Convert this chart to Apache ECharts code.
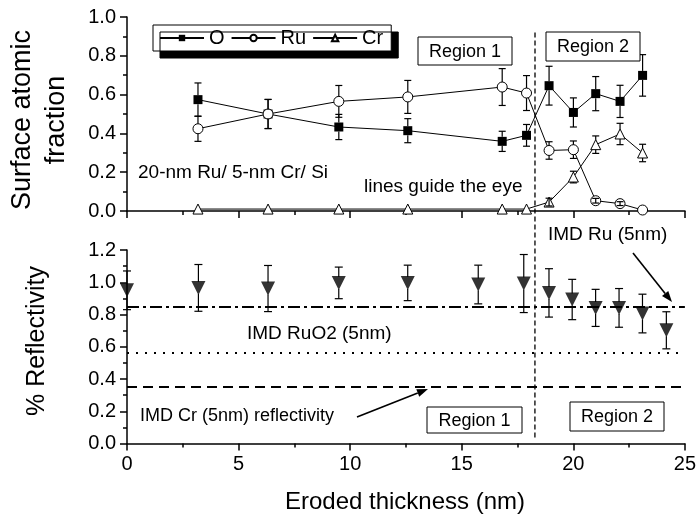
<!DOCTYPE html>
<html>
<head>
<meta charset="utf-8">
<script src="https://cdn.jsdelivr.net/npm/echarts@6/dist/echarts.min.js"></script>
<style>
html,body{margin:0;padding:0;background:#fff;}
#chart{width:699px;height:525px;}
</style>
</head>
<body>
<div id="chart"></div>
<script>
// ---------- DATA ----------
// Top panel: surface atomic fraction vs eroded thickness (nm)
const xTop   = [3.18, 6.32, 9.49, 12.58, 16.81, 17.90, 18.91, 20.00, 21.00, 22.09, 23.10];
const oFrac  = [0.574, 0.500, 0.433, 0.414, 0.359, 0.390, 0.646, 0.508, 0.605, 0.565, 0.699];
const oErr   = [0.086, 0.075, 0.065, 0.062, 0.052, 0.056, 0.100, 0.075, 0.088, 0.083, 0.107];
const ruFrac = [0.424, 0.500, 0.565, 0.588, 0.639, 0.608, 0.312, 0.316, 0.053, 0.038, 0.005];
const ruErr  = [0.065, 0.075, 0.082, 0.085, 0.095, 0.090, 0.045, 0.045, 0.012, 0.010, 0];
const crFrac = [0.010, 0.010, 0.010, 0.010, 0.010, 0.010, 0.046, 0.175, 0.342, 0.397, 0.299];
const crErr  = [0, 0, 0, 0, 0, 0, 0.020, 0.030, 0.045, 0.055, 0.045];

// Bottom panel: % reflectivity
const xBot   = [0.0, 3.20, 6.32, 9.49, 12.58, 15.74, 17.78, 18.91, 19.95, 21.00, 22.05, 23.10, 24.17];
const refl   = [0.950, 0.965, 0.961, 0.996, 0.996, 0.986, 0.992, 0.934, 0.893, 0.841, 0.841, 0.806, 0.702];
const reflErr= [0.120, 0.145, 0.143, 0.098, 0.110, 0.120, 0.180, 0.150, 0.125, 0.115, 0.120, 0.120, 0.115];

// Reference (IMD) reflectivity levels
const imdRu   = 0.847;
const imdRuO2 = 0.564;
const imdCr   = 0.355;

// Region boundary (nm)
const regionBoundary = 18.28;

// Axis ticks
const xTicks = {min: 0, max: 25, interval: 5};
const yTopTicks = {min: 0, max: 1.0, interval: 0.2};
const yBotTicks = {min: 0, max: 1.2, interval: 0.2};

// ---------- CHART ----------
const FONT = 'Liberation Sans, Arial, Helvetica, sans-serif';
const chart = echarts.init(document.getElementById('chart'), null, {renderer: 'canvas'});

function pairs(xs, ys, es) { return xs.map((x, i) => es ? [x, ys[i], es[i]] : [x, ys[i]]); }

function errRenderer(gap, capHalf) {
  return function (params, api) {
    const x = api.value(0), y = api.value(1), e = api.value(2);
    if (!e) return null;
    const c = api.coord([x, y]);
    const hi = api.coord([x, y + e]);
    const lo = api.coord([x, y - e]);
    const st = {stroke: '#000', lineWidth: 1.2};
    const ch = [];
    const dUp = c[1] - hi[1];
    if (dUp > gap) {
      ch.push({type: 'line', shape: {x1: c[0], y1: c[1] - gap, x2: hi[0], y2: hi[1]}, style: st});
      ch.push({type: 'line', shape: {x1: c[0], y1: lo[1], x2: c[0], y2: c[1] + gap}, style: st});
    } else {
      ch.push({type: 'line', shape: {x1: c[0], y1: hi[1], x2: c[0], y2: lo[1]}, style: st});
    }
    ch.push({type: 'line', shape: {x1: hi[0] - capHalf, y1: hi[1], x2: hi[0] + capHalf, y2: hi[1]}, style: st});
    ch.push({type: 'line', shape: {x1: lo[0] - capHalf, y1: lo[1], x2: lo[0] + capHalf, y2: lo[1]}, style: st});
    return {type: 'group', children: ch};
  };
}

const axisLineStyle = {color: '#000', width: 1.5};
function xAxisCfg(grid, showLabel) {
  return {
    gridIndex: grid, type: 'value', min: xTicks.min, max: xTicks.max, interval: xTicks.interval,
    axisLine: {show: true, onZero: false, lineStyle: axisLineStyle},
    axisTick: {show: true, inside: false, length: 7, lineStyle: axisLineStyle},
    minorTick: {show: true, splitNumber: 2, length: 4, lineStyle: axisLineStyle},
    splitLine: {show: false},
    axisLabel: {show: showLabel, color: '#000', fontSize: 20, fontFamily: FONT, margin: 11}
  };
}
function yAxisCfg(grid, t) {
  return {
    gridIndex: grid, type: 'value', min: t.min, max: t.max, interval: t.interval,
    axisLine: {show: true, onZero: false, lineStyle: axisLineStyle},
    axisTick: {show: true, inside: false, length: 7, lineStyle: axisLineStyle},
    minorTick: {show: true, splitNumber: 2, length: 4, lineStyle: axisLineStyle},
    splitLine: {show: false},
    axisLabel: {color: '#000', fontSize: 20, fontFamily: FONT, margin: 11,
      formatter: v => v.toFixed(1)}
  };
}

const option = {
  animation: false,
  backgroundColor: '#fff',
  textStyle: {fontFamily: FONT},
  grid: [
    {left: 127, right: 14, top: 17, height: 194},
    {left: 127, right: 14, top: 250, height: 193.5}
  ],
  xAxis: [xAxisCfg(0, false), xAxisCfg(1, true)],
  yAxis: [yAxisCfg(0, yTopTicks), yAxisCfg(1, yBotTicks)],
  legend: {
    left: 153, top: 25,
    data: ['O', 'Ru', 'Cr'],
    orient: 'horizontal',
    itemWidth: 44, itemHeight: 8, itemGap: 6,
    padding: [3, 8, 3, 6],
    backgroundColor: '#fff', borderColor: '#000', borderWidth: 1,
    shadowColor: '#000', shadowOffsetX: 7, shadowOffsetY: 7, shadowBlur: 0.01,
    textStyle: {color: '#000', fontSize: 20, fontFamily: FONT},
    selectedMode: false
  },
  series: [
    {name: 'O', type: 'line', xAxisIndex: 0, yAxisIndex: 0, data: pairs(xTop, oFrac),
      symbol: 'rect', symbolSize: 9, itemStyle: {color: '#000'}, lineStyle: {color: '#000', width: 1}, z: 3},
    {name: 'Ru', type: 'line', xAxisIndex: 0, yAxisIndex: 0, data: pairs(xTop, ruFrac),
      symbol: 'circle', symbolSize: 10, itemStyle: {color: '#fff', borderColor: '#000', borderWidth: 1},
      lineStyle: {color: '#000', width: 1}, z: 3},
    {name: 'Cr', type: 'line', xAxisIndex: 0, yAxisIndex: 0, data: pairs(xTop, crFrac),
      symbol: 'triangle', symbolSize: 10, itemStyle: {color: '#fff', borderColor: '#000', borderWidth: 1},
      lineStyle: {color: '#000', width: 1}, z: 3},
    {type: 'custom', xAxisIndex: 0, yAxisIndex: 0, data: pairs(xTop, oFrac, oErr), renderItem: errRenderer(4.5, 3.5), z: 4, silent: true},
    {type: 'custom', xAxisIndex: 0, yAxisIndex: 0, data: pairs(xTop, ruFrac, ruErr), renderItem: errRenderer(5, 3.5), z: 4, silent: true},
    {type: 'custom', xAxisIndex: 0, yAxisIndex: 0, data: pairs(xTop, crFrac, crErr), renderItem: errRenderer(5, 3.5), z: 4, silent: true},
    {name: 'Reflectivity', type: 'scatter', xAxisIndex: 1, yAxisIndex: 1, data: pairs(xBot, refl),
      symbol: 'triangle', symbolRotate: 180, symbolSize: 14, itemStyle: {color: '#000'}, z: 3,
      markLine: {
        silent: true, symbol: 'none', label: {show: false},
        data: [
          {yAxis: imdRu, lineStyle: {color: '#000', width: 2, type: [12, 4, 3, 4]}},
          {yAxis: imdRuO2, lineStyle: {color: '#000', width: 2, type: [2, 7]}},
          {yAxis: imdCr, lineStyle: {color: '#000', width: 2, type: [10, 6]}}
        ]
      }},
    {type: 'custom', xAxisIndex: 1, yAxisIndex: 1, data: pairs(xBot, refl, reflErr), renderItem: errRenderer(6, 4), z: 2, silent: true}
  ]
};
chart.setOption(option);

// ---------- ANNOTATIONS ----------
const vTop = chart.convertToPixel({gridIndex: 0}, [regionBoundary, 0.92]);
const vBot = chart.convertToPixel({gridIndex: 1}, [regionBoundary, 0.02]);

function txt(x, y, s, size, extra) {
  return Object.assign({type: 'text', x: x, y: y, z: 20,
    style: {text: s, fill: '#000', font: size + 'px ' + FONT, textAlign: 'left', textVerticalAlign: 'middle'}}, extra || {});
}
function box(x1, y1, x2, y2, s) {
  return [
    {type: 'rect', z: 19, shape: {x: x1, y: y1, width: x2 - x1, height: y2 - y1},
      style: {fill: '#fff', stroke: '#000', lineWidth: 1}},
    {type: 'text', z: 20, x: (x1 + x2) / 2, y: (y1 + y2) / 2 + 1,
      style: {text: s, fill: '#000', font: '18px ' + FONT, textAlign: 'center', textVerticalAlign: 'middle'}}
  ];
}
function arrow(x1, y1, x2, y2) {
  const a = Math.atan2(y2 - y1, x2 - x1), L = 11, W = 4;
  const bx = x2 - L * Math.cos(a), by = y2 - L * Math.sin(a);
  const px = -Math.sin(a) * W, py = Math.cos(a) * W;
  return [
    {type: 'line', z: 20, shape: {x1: x1, y1: y1, x2: bx, y2: by}, style: {stroke: '#000', lineWidth: 1.6}},
    {type: 'polygon', z: 20, shape: {points: [[x2, y2], [bx + px, by + py], [bx - px, by - py]]}, style: {fill: '#000'}}
  ];
}

const graphics = [].concat(
  [{type: 'line', z: 15, shape: {x1: vTop[0], y1: vTop[1], x2: vBot[0], y2: vBot[1]},
    style: {stroke: '#000', lineWidth: 1.3, lineDash: [5, 3]}}],
  box(418, 37, 512, 65, 'Region 1'),
  box(546, 32, 640, 61, 'Region 2'),
  box(427, 407, 522, 433, 'Region 1'),
  box(570, 402, 664, 431, 'Region 2'),
  [
    txt(138, 173, '20-nm Ru/ 5-nm Cr/ Si', 19),
    txt(364, 187, 'lines guide the eye', 19),
    txt(548, 235, 'IMD Ru (5nm)', 19),
    txt(247, 334, 'IMD RuO2 (5nm)', 19),
    txt(140, 416, 'IMD Cr (5nm) reflectivity', 18),
    {type: 'text', z: 20, x: 40, y: 120, rotation: Math.PI / 2,
      style: {text: 'Surface atomic\nfraction', fill: '#000', font: '27px ' + FONT, lineHeight: 34,
        textAlign: 'center', textVerticalAlign: 'middle'}},
    {type: 'text', z: 20, x: 37, y: 341, rotation: Math.PI / 2,
      style: {text: '% Reflectivity', fill: '#000', font: '25px ' + FONT, textAlign: 'center', textVerticalAlign: 'middle'}},
    {type: 'text', z: 20, x: 405, y: 502,
      style: {text: 'Eroded thickness (nm)', fill: '#000', font: '24px ' + FONT, textAlign: 'center', textVerticalAlign: 'middle'}}
  ],
  arrow(633, 253, 672, 302),
  arrow(357, 417, 428, 389)
);
chart.setOption({graphic: graphics});
</script>
</body>
</html>
